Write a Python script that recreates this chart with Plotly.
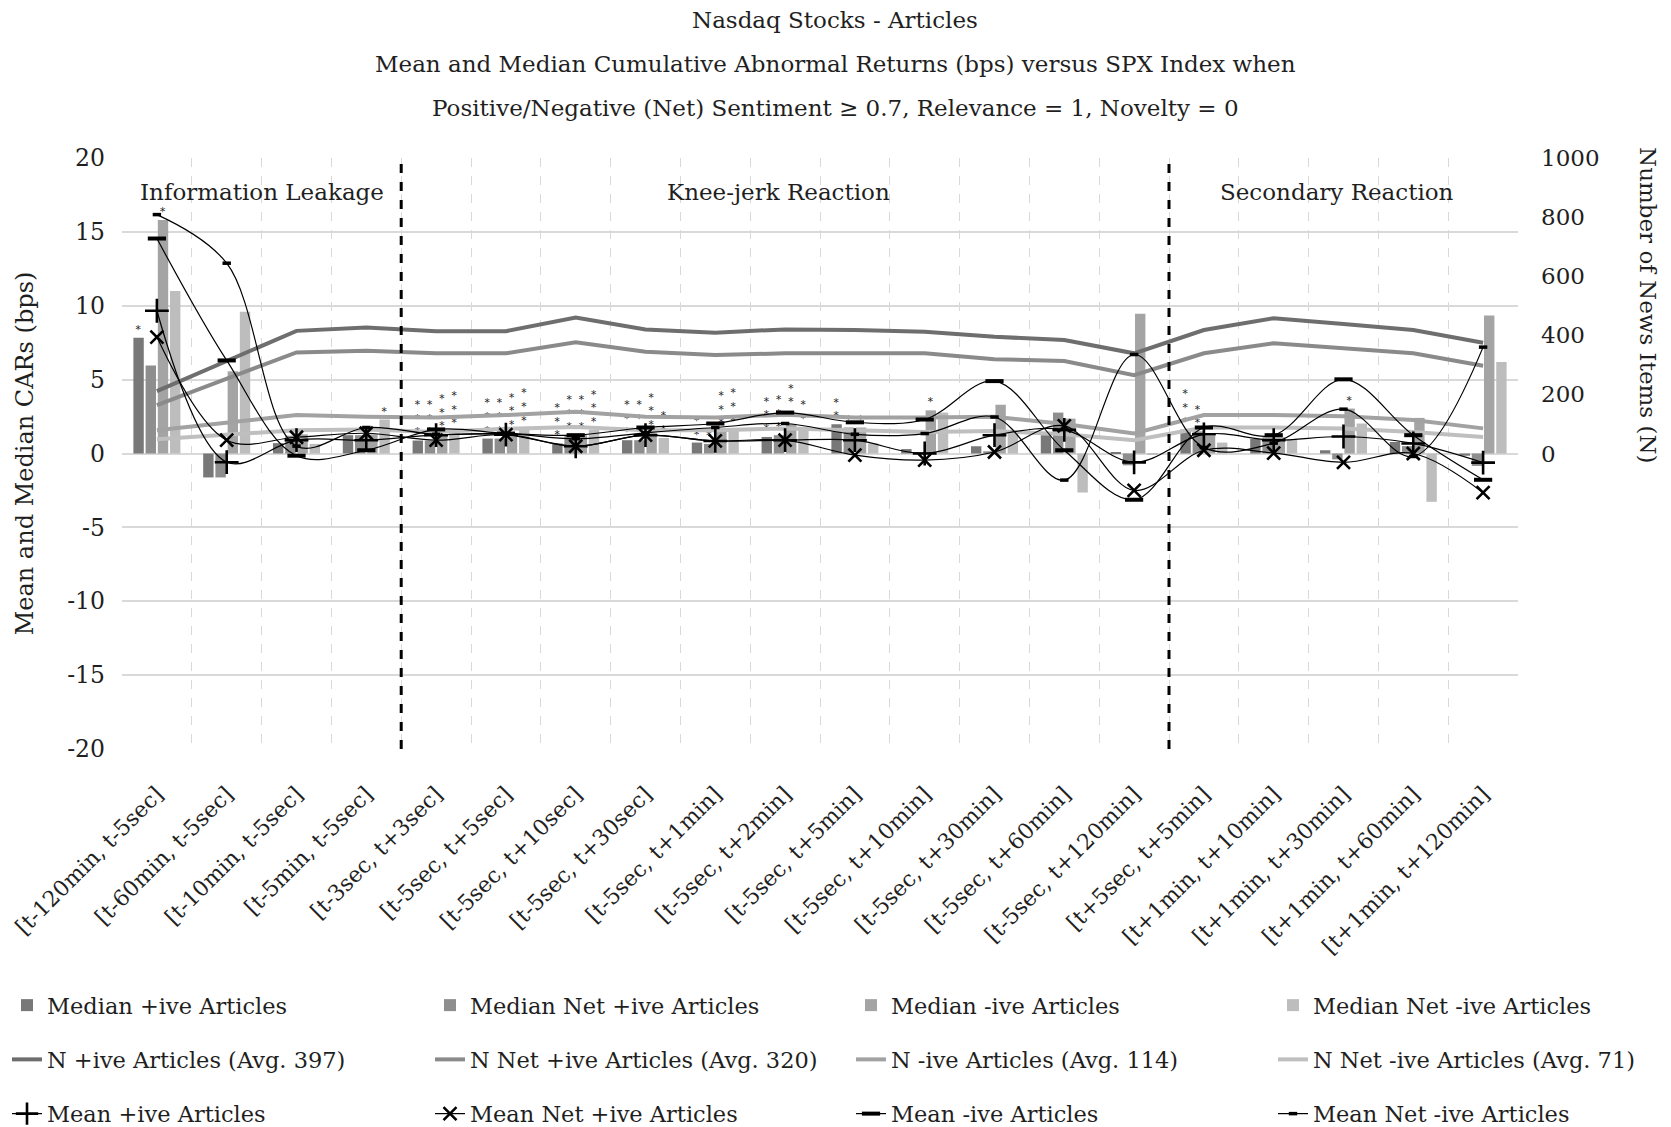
import plotly.graph_objects as go

FONT = "DejaVu Serif"
TXT = "#1f1f1f"

categories = [
    "[t-120min, t-5sec]", "[t-60min, t-5sec]", "[t-10min, t-5sec]", "[t-5min, t-5sec]",
    "[t-3sec, t+3sec]", "[t-5sec, t+5sec]", "[t-5sec, t+10sec]", "[t-5sec, t+30sec]",
    "[t-5sec, t+1min]", "[t-5sec, t+2min]", "[t-5sec, t+5min]", "[t-5sec, t+10min]",
    "[t-5sec, t+30min]", "[t-5sec, t+60min]", "[t-5sec, t+120min]", "[t+5sec, t+5min]",
    "[t+1min, t+10min]", "[t+1min, t+30min]", "[t+1min, t+60min]", "[t+1min, t+120min]",
]

# Median CARs (bps) - bars, left axis
median_pos = [7.84, -1.62, 0.70, 1.24, 0.88, 1.01, 0.68, 0.90, 0.74, 1.12,
              1.98, 0.30, 0.49, 1.24, 0.10, 1.62, 0.98, 0.22, 0.78, -0.15]
median_net_pos = [5.95, -1.62, 1.20, 1.24, 0.88, 1.01, 1.24, 0.90, 0.65, 1.24,
                  1.76, 0.10, 0.15, 2.77, -0.80, 1.50, 1.10, -0.40, 0.50, -0.84]
median_neg = [15.80, 5.56, 1.30, 1.30, 1.30, 1.40, 1.24, 1.40, 1.50, 2.00,
              1.76, 2.92, 3.30, 2.36, 9.46, 1.20, 1.10, 3.04, 2.41, 9.34]
median_net_neg = [11.00, 9.60, 0.65, 2.30, 1.50, 1.69, 1.60, 1.05, 1.69, 1.80,
                  0.68, 2.77, 1.45, -2.64, -0.10, 0.74, 0.95, 2.03, -3.27, 6.19]

# significance stars on the median bars
stars_median_pos = ["*", "", "", "", "***", "***", "***", "***", "**", "***",
                    "**", "", "", "", "", "***", "", "", "", ""]
stars_median_net_pos = ["", "", "", "", "***", "***", "***", "***", "*", "***",
                        "*", "", "", "", "", "**", "", "", "", ""]
stars_median_neg = ["*", "", "", "", "***", "***", "***", "***", "***", "***",
                    "*", "*", "", "", "", "", "", "*", "", ""]
stars_median_net_neg = ["", "", "", "*", "***", "***", "***", "**", "***", "**",
                        "", "", "", "", "", "", "", "", "", ""]

# Number of news items - right axis
n_pos = [211, 313, 415, 426, 414, 414, 460, 420, 409, 420,
         418, 412, 395, 384, 339, 418, 458, 438, 418, 375]
n_net_pos = [164, 253, 342, 348, 339, 339, 376, 344, 333, 339,
             339, 339, 319, 313, 265, 339, 373, 356, 339, 297]
n_neg = [79, 104, 130, 124, 122, 130, 141, 124, 122, 131,
         122, 122, 124, 100, 68, 130, 130, 126, 113, 85]
n_net_neg = [48, 64, 79, 81, 73, 84, 90, 79, 79, 85,
             79, 73, 76, 65, 45, 88, 88, 85, 73, 56]

# Mean CARs (bps) - left axis
mean_pos = [9.66, -0.59, 0.90, 0.90, 1.24, 1.28, 0.49, 1.24, 0.85, 0.90,
            0.90, 0.00, 1.24, 1.60, -0.60, 1.30, 0.90, 1.15, 0.68, -0.62]
mean_net_pos = [7.88, 0.90, 1.10, 1.37, 0.90, 1.28, 0.49, 1.24, 0.85, 0.90,
                -0.11, -0.45, 0.10, 1.87, -2.50, 0.22, 0.03, -0.60, 0.00, -2.65]
mean_neg = [14.55, 6.30, -0.15, 0.22, 1.63, 1.35, 1.24, 1.76, 2.03, 2.77,
            2.11, 2.30, 4.90, 0.22, -3.13, 1.76, 1.24, 5.02, 1.24, -1.78]
mean_net_neg = [16.17, 12.88, 0.50, 1.76, 1.30, 1.35, 1.00, 1.40, 1.76, 2.03,
                1.30, 1.35, 2.47, -1.80, 6.70, 0.40, 0.70, 3.00, -0.20, 7.20]

left_ticks = [-20, -15, -10, -5, 0, 5, 10, 15, 20]
left_tick_text = ["-20", "-15", "-10", "-5", "0", "5", "10", "15", "20"]
right_ticks = [0, 200, 400, 600, 800, 1000]

# sections: label, first category index, last category index
sections = [("Information Leakage", 0, 3), ("Knee-jerk Reaction", 4, 14), ("Secondary Reaction", 15, 19)]
section_label_x = [1.5, 8.9, 16.9]
section_label_y = 17.7

title_lines = [
    "Nasdaq Stocks - Articles",
    "Mean and Median Cumulative Abnormal Returns (bps) versus SPX Index when",
    "Positive/Negative (Net) Sentiment \u2265 0.7, Relevance = 1, Novelty = 0",
]

# ---------------- layout geometry (pixels of the browser window) ----------------
OFF = 8                      # default page-body margin
WIN_W, WIN_H = 1671, 1127
W, H = WIN_W - OFF, WIN_H - OFF
PLOT_L, PLOT_R, PLOT_T, PLOT_B = 122, 1518, 158, 749
L, T = PLOT_L - OFF, PLOT_T - OFF
R, B = W - (PLOT_R - OFF), H - (PLOT_B - OFF)
PW, PH = PLOT_R - PLOT_L, PLOT_B - PLOT_T


def px_x(px):
    return (px - PLOT_L) / PW


def px_y(py):
    return (PLOT_B - py) / PH


fig = go.Figure()


def star_text(s):
    return "<br>".join(s)


bar_specs = [
    ("Median +ive Articles", median_pos, stars_median_pos, "#787878", "legend"),
    ("Median Net +ive Articles", median_net_pos, stars_median_net_pos, "#8e8e8e", "legend2"),
    ("Median -ive Articles", median_neg, stars_median_neg, "#a4a4a4", "legend3"),
    ("Median Net -ive Articles", median_net_neg, stars_median_net_neg, "#bdbdbd", "legend4"),
]
for name, vals, stars, color, lg in bar_specs:
    fig.add_trace(go.Bar(
        x=categories, y=vals, name=name, marker=dict(color=color, line=dict(width=0)),
        text=[star_text(s) for s in stars], textposition="outside",
        textangle=0, constraintext="none", cliponaxis=False,
        textfont=dict(family=FONT, size=10.5, color=TXT),
        legend=lg, legendgroup=name, legendrank=1,
    ))

n_specs = [
    ("N +ive Articles (Avg. 397)", n_pos, "#6e6e6e", "legend"),
    ("N Net +ive Articles (Avg. 320)", n_net_pos, "#8a8a8a", "legend2"),
    ("N -ive Articles (Avg. 114)", n_neg, "#a2a2a2", "legend3"),
    ("N Net -ive Articles (Avg. 71)", n_net_neg, "#bfbfbf", "legend4"),
]
for name, vals, color, lg in n_specs:
    fig.add_trace(go.Scatter(
        x=categories, y=vals, name=name, yaxis="y2", mode="lines",
        line=dict(color=color, width=4), legend=lg, legendgroup=name, legendrank=2,
    ))

mean_specs = [
    ("Mean +ive Articles", mean_pos, dict(symbol="cross-thin", size=17, line=dict(width=2.6, color="black")), "legend"),
    ("Mean Net +ive Articles", mean_net_pos, dict(symbol="x-thin", size=13, line=dict(width=2.6, color="black")), "legend2"),
    ("Mean -ive Articles", mean_neg, dict(symbol="line-ew", size=13, line=dict(width=4, color="black")), "legend3"),
    ("Mean Net -ive Articles", mean_net_neg, dict(symbol="line-ew", size=6, line=dict(width=3.5, color="black")), "legend4"),
]
for name, vals, marker, lg in mean_specs:
    fig.add_trace(go.Scatter(
        x=categories, y=vals, name=name, yaxis="y3", mode="lines+markers",
        line=dict(color="black", width=1.2, shape="spline", smoothing=1.0),
        marker=dict(color="black", **marker), legend=lg, legendgroup=name, legendrank=3,
    ))

shapes = []
annotations = []
for i, ((label, a, b), lx) in enumerate(zip(sections, section_label_x)):
    if i < len(sections) - 1:
        shapes.append(dict(type="line", xref="x", yref="paper", x0=b + 0.5, x1=b + 0.5,
                           y0=0, y1=1, line=dict(color="black", width=3, dash="dash")))
    annotations.append(dict(text=label, xref="x", yref="y", x=lx, y=section_label_y,
                            showarrow=False, font=dict(family=FONT, size=23, color=TXT)))

for py, line in zip([20, 64, 108], title_lines):
    annotations.append(dict(text=line, xref="paper", yref="paper", x=px_x(WIN_W / 2), y=px_y(py),
                            xanchor="center", yanchor="middle", showarrow=False,
                            font=dict(family=FONT, size=23, color=TXT)))

annotations.append(dict(text="Number of News Items (N)", xref="paper", yref="paper",
                        x=px_x(1648), y=px_y(305), textangle=90, showarrow=False,
                        xanchor="center", yanchor="middle",
                        font=dict(family=FONT, size=23, color=TXT)))

legend_common = dict(orientation="v", traceorder="grouped", tracegroupgap=22,
                     font=dict(family=FONT, size=22.5, color=TXT), bgcolor="rgba(0,0,0,0)",
                     xanchor="left", yanchor="top", itemwidth=30)
legend_x = [7, 430, 851, 1273]
legend_top = 984

layout_legends = {}
for k, lx in enumerate(legend_x):
    key = "legend" if k == 0 else f"legend{k + 1}"
    layout_legends[key] = dict(x=px_x(lx), y=px_y(legend_top), **legend_common)

fig.update_layout(
    width=W, height=H,
    margin=dict(l=L, r=R, t=T, b=B, autoexpand=False),
    plot_bgcolor="white", paper_bgcolor="white",
    font=dict(family=FONT, size=22, color=TXT),
    barmode="group", bargap=0.30, bargroupgap=0.15,
    showlegend=True,
    xaxis=dict(type="category", tickson="boundaries", showgrid=True, gridcolor="#d9d9d9",
               griddash="dash", gridwidth=1.3, tickangle=-45, ticks="", showline=False,
               ticklabelstandoff=27,
               range=[-0.5, len(categories) - 0.5], tickfont=dict(family=FONT, size=22, color=TXT)),
    yaxis=dict(range=[-20, 20], tickvals=left_ticks, ticktext=left_tick_text,
               showgrid=True, gridcolor="#d9d9d9", gridwidth=1.5,
               zeroline=False, ticks="", showline=False, ticklabelstandoff=16,
               tickfont=dict(family=FONT, size=23.5, color=TXT),
               title=dict(text="Mean and Median CARs (bps)", font=dict(family=FONT, size=24, color=TXT),
                          standoff=26)),
    yaxis2=dict(overlaying="y", side="right", range=[-1000, 1000], tickvals=right_ticks,
                showgrid=False, zeroline=False, ticks="", showline=False, ticklabelstandoff=22,
                tickfont=dict(family=FONT, size=23, color=TXT)),
    yaxis3=dict(overlaying="y", range=[-20, 20], visible=False, showgrid=False, zeroline=False),
    shapes=shapes,
    annotations=annotations,
    **layout_legends,
)

fig.write_html("out.html")
